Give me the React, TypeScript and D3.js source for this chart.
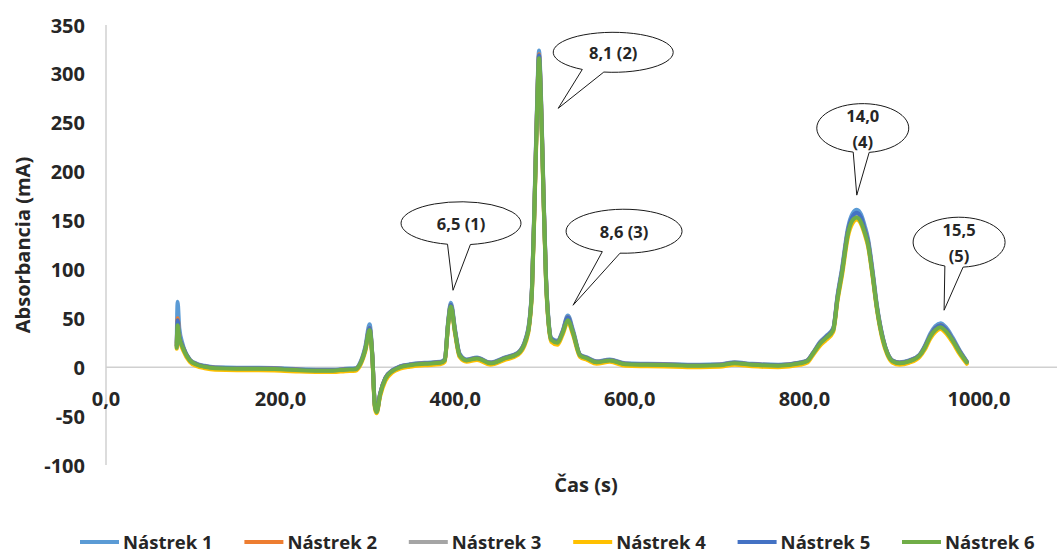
import React from "react";
import * as d3 from "d3";

// Retention time (s) shared by all six injections
const times = [
  81, 82, 84, 88, 96, 104, 113, 125, 150, 175,
  200, 222, 245, 260, 274, 286, 291, 297, 302, 305,
  308, 310, 314, 320, 328, 337, 348, 365, 383, 388,
  392, 395, 400, 405, 413, 425, 440, 457, 472, 481,
  485, 488, 491, 494, 496, 498, 501, 504, 507, 510,
  517, 523, 529, 535, 543, 551, 562, 577, 595, 620,
  650, 680, 703, 720, 740, 770, 795, 803, 810, 818,
  825, 833, 838, 843, 850, 855, 860, 865, 869, 873,
  878, 883, 890, 895, 901, 909, 920, 932, 938, 944,
  950, 956, 962, 970, 978, 986,
];

// Absorbance (mA) per injection
const nastrek1 = [
  25, 67, 40, 23, 8, 3.5, 1.5, 0, -0.5, -0.5,
  -1, -2, -2.5, -2.5, -1.5, -1, 4.5, 21, 44, 14,
  -38, -45, -27, -11, -3, 1, 3, 4.5, 5.5, 8,
  48, 66, 38, 14, 8, 10, 5, 10, 15, 30,
  48, 84, 176, 278, 324, 288, 186, 94, 48, 30,
  27, 37, 53, 38, 13, 10, 6, 8, 4, 3.5,
  3, 2.5, 3, 5, 3.5, 2.5, 5, 7, 15, 26,
  32, 40, 74, 101, 143, 157, 161, 156, 145, 131,
  100, 64, 30, 15, 7, 5, 7, 13, 22, 34,
  42, 45, 41, 30, 17, 6,
];
const nastrek2 = [
  22, 50, 33, 21, 7.5, 3, 1, -0.5, -1, -1,
  -1.5, -2.5, -3, -3, -2, -1.5, 3.5, 19, 40, 13,
  -39, -45, -27, -11, -3.5, 0.5, 2.5, 4, 5, 7.5,
  46, 64, 36, 13, 7.5, 9.5, 4.5, 9.5, 14.5, 29,
  46, 82, 173, 274, 320, 284, 183, 92, 46, 29,
  26, 36, 51, 36, 12.5, 9.5, 5.5, 7.5, 3.5, 3,
  2.5, 2, 2.5, 4.5, 3, 2, 4.5, 6.5, 14.5, 25,
  31, 39, 72, 98, 140, 153, 157, 152, 141, 128,
  97, 62, 29, 14.5, 6.5, 4.5, 6.5, 12.5, 21, 32,
  40, 43, 39, 28, 16, 5.5,
];
const nastrek3 = [
  21, 46, 31, 20, 7, 2.5, 0.5, -1, -1.5, -1.5,
  -2, -3, -3.5, -3.5, -2.5, -2, 3, 18, 39, 12,
  -40, -46, -28, -12, -4, 0, 2, 3.5, 4.5, 7,
  45, 63, 35, 12, 7, 9, 4, 9, 14, 28,
  45, 81, 171, 272, 318, 282, 181, 91, 45, 28,
  25, 35, 49, 35, 12, 9, 5, 7, 3, 2.5,
  2, 1.5, 2, 4, 2.5, 1.5, 4, 6, 14, 24,
  30, 38, 71, 97, 138, 151, 155, 150, 139, 126,
  95, 61, 28, 14, 6, 4, 6, 12, 20, 31,
  39, 42, 38, 27, 15, 5,
];
const nastrek4 = [
  19, 38, 28, 18, 5.5, 1, -1, -2.5, -3, -3,
  -3.5, -4.5, -5, -5, -4, -3.5, 1.5, 16, 36, 10,
  -42, -47, -30, -14, -5.5, -1.5, 0.5, 2, 3, 5.5,
  43, 60, 33, 10.5, 5.5, 7.5, 2.5, 7.5, 12.5, 26,
  43, 77, 166, 266, 312, 276, 177, 87, 43, 26,
  23, 33, 46, 33, 10.5, 7.5, 3.5, 5.5, 1.5, 1,
  0.5, 0, 0.5, 2.5, 1, 0, 2.5, 4.5, 12.5, 22,
  28, 36, 68, 93, 134, 147, 151, 146, 136, 123,
  93, 59, 26, 12.5, 4.5, 2.5, 4.5, 10.5, 18, 29,
  36, 39, 35, 25, 13, 3.5,
];
const nastrek5 = [
  22, 48, 32, 21, 7.5, 3, 1, -0.5, -1, -1,
  -1.5, -2.5, -3, -3, -2, -1.5, 3.5, 19, 40, 13,
  -39, -45, -27, -11, -3.5, 0.5, 2.5, 4, 5, 7.5,
  46, 64, 36, 13, 7.5, 9.5, 4.5, 9.5, 14.5, 29,
  46, 82, 172, 273, 319, 283, 182, 91, 46, 29,
  26, 36, 51, 36, 12.5, 9.5, 5.5, 7.5, 3.5, 3,
  2.5, 2, 2.5, 4.5, 3, 2, 4.5, 6.5, 14.5, 25,
  31, 39, 72, 98, 140, 154, 158, 153, 141, 128,
  97, 62, 29, 14.5, 6.5, 4.5, 6.5, 12.5, 21, 32,
  40, 43, 39, 28, 16, 5.5,
];
const nastrek6 = [
  20, 43, 30, 20, 7, 2.5, 0.5, -1, -1.5, -1.5,
  -2, -3, -3.5, -3.5, -2.5, -2, 3, 18, 38, 12,
  -40, -46, -28, -12, -4, 0, 2, 3.5, 4.5, 7,
  45, 62, 35, 12, 7, 9, 4, 9, 14, 28,
  45, 80, 170, 270, 316, 280, 180, 90, 45, 28,
  25, 35, 48, 35, 12, 9, 5, 7, 3, 2.5,
  2, 1.5, 2, 4, 2.5, 1.5, 4, 6, 14, 24,
  30, 38, 70, 96, 137, 150, 153, 148, 138, 125,
  95, 61, 28, 14, 6, 4, 6, 12, 20, 31,
  38, 41, 37, 27, 15, 5,
];

const seriesNames = ["Nástrek 1", "Nástrek 2", "Nástrek 3", "Nástrek 4", "Nástrek 5", "Nástrek 6"];
const seriesValues = [nastrek1, nastrek2, nastrek3, nastrek4, nastrek5, nastrek6];
const seriesColors = ["#5B9BD5", "#ED7D31", "#A5A5A5", "#FFC000", "#4472C4", "#70AD47"];

const xTicks = [0, 200, 400, 600, 800, 1000];
const yTicks = [-100, -50, 0, 50, 100, 150, 200, 250, 300, 350];

// Peak annotations: text lines and the (time, absorbance) point the pointer touches
const calloutLines = [["6,5 (1)"], ["8,1 (2)"], ["8,6 (3)"], ["14,0", "(4)"], ["15,5", "(5)"]];
const calloutTipTime = [397.5, 518, 535, 860, 960];
const calloutTipValue = [78.7, 264.8, 63.4, 176, 58.3];

const W = 1057;
const H = 555;
const FONT = "'Open Sans', 'DejaVu Sans', sans-serif";

// Bubble geometry relative to the pointer tip (px), radii and where the wedge leaves the oval (deg)
const bubbleLayout = [
  { dx: 8, dy: -67, rx: 60, ry: 21.5, a1: 81, a2: 103 },
  { dx: 55, dy: -56, rx: 60, ry: 20, a1: 99, a2: 121 },
  { dx: 51, dy: -74, rx: 58, ry: 22, a1: 94, a2: 112 },
  { dx: 6, dy: -67, rx: 46, ry: 24.5, a1: 82, a2: 102 },
  { dx: 15, dy: -68, rx: 46, ry: 25, a1: 85, a2: 108 },
];

const commaLocale = d3.formatLocale({ decimal: ",", thousands: " ", grouping: [3], currency: ["", ""] });
const fmtX = commaLocale.format(".1f");

function bubblePath(cx: number, cy: number, rx: number, ry: number, a1: number, a2: number, tx: number, ty: number) {
  const p = (deg: number) => {
    const r = (deg * Math.PI) / 180;
    return [cx + rx * Math.cos(r), cy + ry * Math.sin(r)];
  };
  const [x1, y1] = p(a1);
  const [x2, y2] = p(a2);
  return `M${x2},${y2} A${rx},${ry} 0 1 1 ${x1},${y1} L${tx},${ty} Z`;
}

export default function App() {
  const x = d3.scaleLinear().domain([0, 1100]).range([106, 106 + 1100 * 0.873]);
  const y = d3.scaleLinear().domain([-100, 350]).range([465, 25]);

  const line = d3
    .line<number>()
    .x((_, i) => x(times[i]))
    .y((v) => y(v))
    .curve(d3.curveMonotoneX);

  const legendStart = 80;
  const legendStep = 164.4;
  const legendY = 541;

  return (
    <svg
      width={W}
      height={H}
      viewBox={`0 0 ${W} ${H}`}
      style={{ position: "absolute", left: 0, top: 0, background: "#fff" }}
      fontFamily={FONT}
    >
      <rect x={0} y={0} width={W} height={H} fill="#fff" />

      {/* axes */}
      <line x1={x(0)} x2={x(0)} y1={y(350)} y2={y(-100)} stroke="#d0d0d0" strokeWidth={1.5} />
      <line x1={x(0)} x2={W} y1={y(0)} y2={y(0)} stroke="#d0d0d0" strokeWidth={1.5} />

      {yTicks.map((t) => (
        <text
          key={`y${t}`}
          x={85}
          y={y(t)}
          textAnchor="end"
          dominantBaseline="central"
          fontSize={20}
          fontWeight={700}
          fill="#262626"
        >
          {t}
        </text>
      ))}
      {xTicks.map((t) => (
        <text
          key={`x${t}`}
          x={x(t)}
          y={y(0) + 31}
          textAnchor="middle"
          dominantBaseline="central"
          fontSize={20}
          fontWeight={700}
          fill="#262626"
        >
          {fmtX(t)}
        </text>
      ))}

      <text
        transform={`translate(22, ${(y(350) + y(-100)) / 2}) rotate(-90)`}
        textAnchor="middle"
        dominantBaseline="central"
        fontSize={20}
        fontWeight={700}
        fill="#262626"
      >
        Absorbancia (mA)
      </text>
      <text x={586} y={484} textAnchor="middle" dominantBaseline="central" fontSize={20} fontWeight={700} fill="#262626">
        Čas (s)
      </text>

      {/* traces */}
      {seriesValues.map((vals, i) => (
        <path
          key={seriesNames[i]}
          d={line(vals) || ""}
          fill="none"
          stroke={seriesColors[i]}
          strokeWidth={4}
          strokeLinejoin="round"
          strokeLinecap="round"
        />
      ))}

      {/* peak callouts */}
      {calloutLines.map((lines, i) => {
        const b = bubbleLayout[i];
        const tx = x(calloutTipTime[i]);
        const ty = y(calloutTipValue[i]);
        const cx = tx + b.dx;
        const cy = ty + b.dy;
        const lh = 26;
        return (
          <g key={`c${i}`}>
            <path d={bubblePath(cx, cy, b.rx, b.ry, b.a1, b.a2, tx, ty)} fill="#fff" stroke="#1a1a1a" strokeWidth={1} />
            {lines.map((s, j) => (
              <text
                key={j}
                x={cx}
                y={cy + (j - (lines.length - 1) / 2) * lh}
                textAnchor="middle"
                dominantBaseline="central"
                fontSize={16.5}
                fontWeight={700}
                fill="#262626"
              >
                {s}
              </text>
            ))}
          </g>
        );
      })}

      {/* legend */}
      {seriesNames.map((name, i) => {
        const lx = legendStart + i * legendStep;
        return (
          <g key={`l${i}`}>
            <line x1={lx} x2={lx + 39} y1={legendY + 1} y2={legendY + 1} stroke={seriesColors[i]} strokeWidth={4} />
            <text x={lx + 43} y={legendY} dominantBaseline="central" fontSize={18.5} fontWeight={700} fill="#262626">
              {name}
            </text>
          </g>
        );
      })}
    </svg>
  );
}
